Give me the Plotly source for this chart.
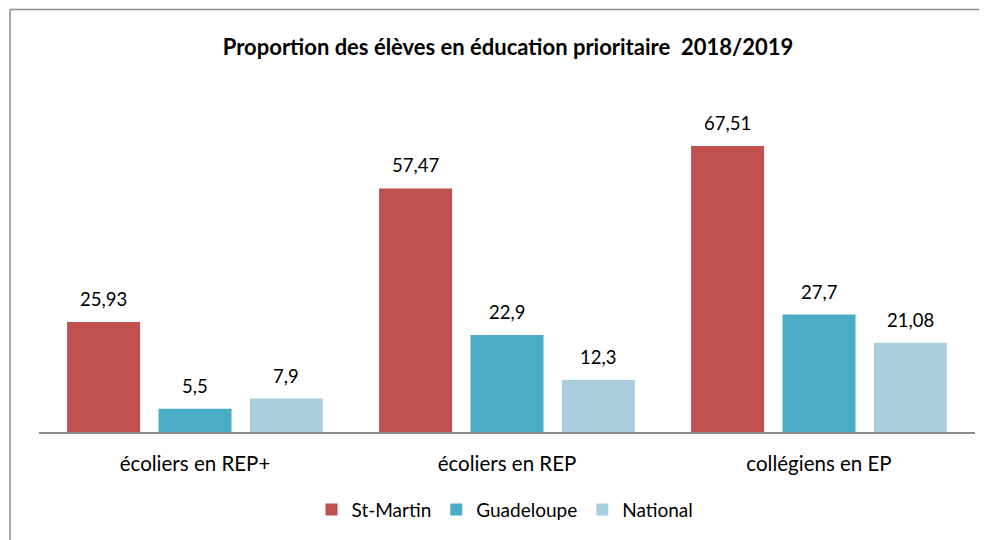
import plotly.graph_objects as go

categories = ["écoliers en REP+", "écoliers en REP", "collégiens en EP"]
series_names = ["St-Martin", "Guadeloupe", "National"]
st_martin = [25.93, 57.47, 67.51]
guadeloupe = [5.5, 22.9, 27.7]
national = [7.9, 12.3, 21.08]
labels_st_martin = ["25,93", "57,47", "67,51"]
labels_guadeloupe = ["5,5", "22,9", "27,7"]
labels_national = ["7,9", "12,3", "21,08"]

colors = ["#C0504D", "#4BACC6", "#A9CFDD"]
values = [st_martin, guadeloupe, national]
labels = [labels_st_martin, labels_guadeloupe, labels_national]
width = 0.234
offsets = [-0.41, -0.117, 0.176]

FONT = "Lato"
# page body has an 8px margin, so the figure is drawn 8px smaller and offset
SHIFT = 8
W, H = 987 - SHIFT, 540 - SHIFT
ml = 39 - SHIFT
mt = 93 - SHIFT
mr = W - (975 - SHIFT)
mb = H - (434 - SHIFT)

fig = go.Figure()
for name, vals, labs, col, off in zip(series_names, values, labels, colors, offsets):
    fig.add_trace(go.Bar(
        x=categories, y=vals, name=name, marker_color=col, marker_line_width=0,
        width=width, offset=off,
    ))
    for i, (v, t) in enumerate(zip(vals, labs)):
        fig.add_annotation(x=i + off + width / 2, y=v, text=t, showarrow=False,
                           xanchor="center", yanchor="bottom", yshift=10,
                           font=dict(size=18.5, color="#000000", family=FONT))

fig.update_layout(
    width=W, height=H,
    margin=dict(l=ml, r=mr, t=mt, b=mb, pad=0),
    paper_bgcolor="white", plot_bgcolor="white",
    barmode="overlay",
    title=dict(text="<b>Proportion des élèves en éducation prioritaire  2018/2019</b>",
               x=(508 - SHIFT) / W, xanchor="center", y=1 - (47 - SHIFT) / H, yanchor="middle",
               font=dict(size=22, color="#000000", family=FONT)),
    font=dict(family=FONT, size=19, color="#000000"),
    xaxis=dict(showline=True, linecolor="#8C8C8C", linewidth=2, ticks="",
               tickfont=dict(size=20.5, family=FONT), showgrid=False, zeroline=False,
               ticklabelstandoff=12, automargin=False),
    yaxis=dict(range=[0, 80], visible=False, showgrid=False, zeroline=False, automargin=False),
    showlegend=True,
    legend=dict(orientation="h", x=(505 - ml - SHIFT) / (W - ml - mr), xanchor="center",
                y=(434 - 512) / (434 - 93), yanchor="middle",
                font=dict(size=19, family=FONT), itemwidth=30, traceorder="normal"),
)

pw = W - ml - mr
ph = H - mt - mb
def px_to_paper_x(px):
    return (px - SHIFT - ml) / pw
def px_to_paper_y(py):
    return (H - mb - (py - SHIFT)) / ph
fig.add_shape(type="line", xref="paper", yref="paper",
              x0=px_to_paper_x(10), x1=px_to_paper_x(10),
              y0=px_to_paper_y(9), y1=px_to_paper_y(545),
              line=dict(color="#8C8C8C", width=1.5))
fig.add_shape(type="line", xref="paper", yref="paper",
              x0=px_to_paper_x(10), x1=px_to_paper_x(995),
              y0=px_to_paper_y(9), y1=px_to_paper_y(9),
              line=dict(color="#8C8C8C", width=1.5))

fig.write_html("out.html")
